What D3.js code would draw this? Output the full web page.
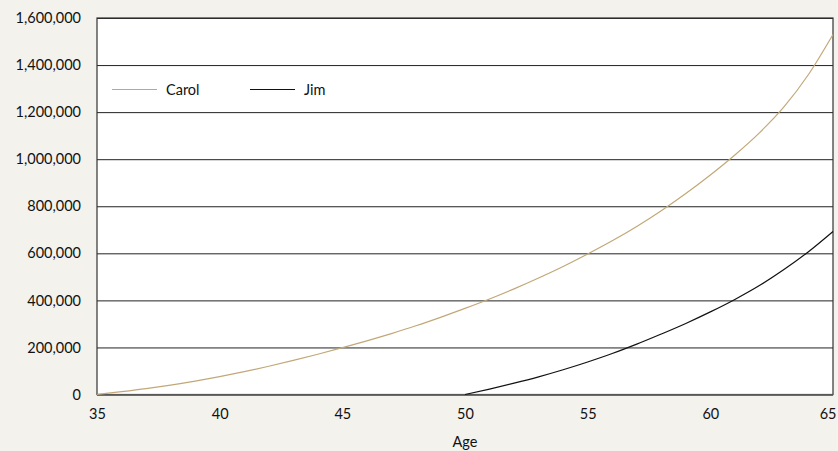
<!DOCTYPE html>
<html>
<head>
<meta charset="utf-8">
<script src="https://cdn.jsdelivr.net/npm/d3@7"></script>
<style>
  html, body { margin: 0; padding: 0; background: #f4f2ed; }
  svg { display: block; }
  text { font-family: "Lato", "Open Sans", sans-serif; fill: #111; }
</style>
</head>
<body>
<svg id="chart" width="838" height="451"></svg>
<script>
// Data (values in dollars)
const carolAges = d3.range(35, 66);
const carolValues = [0, 12000, 25000, 40000, 57000, 76000, 97000, 120000, 145000, 171000,
  199000, 228000, 259000, 292000, 328000, 366000, 406000, 449000, 495000, 544000,
  597000, 653000, 714000, 781000, 854000, 933000, 1018000, 1112000, 1222000, 1360000, 1530000];
const jimAges = d3.range(50, 66);
const jimValues = [0, 23000, 48000, 75000, 105000, 138000, 174000, 214000, 257000, 302000,
  351000, 404000, 463000, 531000, 607000, 693000];
const seriesNames = ["Carol", "Jim"];
const seriesColors = ["#c2a878", "#111111"];
const xTicks = [35, 40, 45, 50, 55, 60, 65];
const yTicks = [0, 200000, 400000, 600000, 800000, 1000000, 1200000, 1400000, 1600000];
const xTitle = "Age";

const svg = d3.select("#chart");
const margin = { left: 97, right: 5, top: 18, bottom: 56.5 };
const W = 838, H = 451;
const x = d3.scaleLinear().domain([35, 65]).range([margin.left, W - margin.right]);
const y = d3.scaleLinear().domain([0, 1600000]).range([H - margin.bottom, margin.top]);

// plot background
svg.append("rect")
  .attr("x", x(35)).attr("y", y(1600000))
  .attr("width", x(65) - x(35)).attr("height", y(0) - y(1600000))
  .attr("fill", "#ffffff");

// gridlines + y labels
const fmt = d3.format(",");
svg.append("g")
  .attr("transform", `translate(${x(35)},0)`)
  .call(d3.axisLeft(y).tickValues(yTicks).tickSize(-(x(65) - x(35))).tickPadding(16).tickFormat(fmt))
  .call(g => g.select(".domain").remove())
  .call(g => g.selectAll(".tick line").attr("stroke", "#222").attr("stroke-width", 1))
  .call(g => g.selectAll(".tick text").attr("font-size", 14.5).attr("fill", "#111")
      .attr("font-family", "Lato, 'Open Sans', sans-serif"));

// x axis labels
svg.append("g")
  .attr("transform", `translate(0,${y(0)})`)
  .call(d3.axisBottom(x).tickValues(xTicks).tickSize(0).tickPadding(14).tickFormat(d3.format("d")))
  .call(g => g.select(".domain").remove())
  .call(g => g.selectAll(".tick text").attr("font-size", 14.5).attr("fill", "#111")
      .attr("font-family", "Lato, 'Open Sans', sans-serif"))
  .call(g => g.selectAll(".tick").filter(d => d === 65).select("text")
      .attr("text-anchor", "end").attr("x", W - 2 - x(65)));

// plot border
svg.append("rect")
  .attr("x", x(35)).attr("y", y(1600000))
  .attr("width", x(65) - x(35)).attr("height", y(0) - y(1600000))
  .attr("fill", "none").attr("stroke", "#333").attr("stroke-width", 1.2);
svg.append("line")
  .attr("x1", x(35)).attr("x2", x(65)).attr("y1", y(0) + 0.5).attr("y2", y(0) + 0.5)
  .attr("stroke", "#666").attr("stroke-width", 1.5);

// lines
const line = d3.line().x(d => x(d[0])).y(d => y(d[1])).curve(d3.curveMonotoneX);
const carolData = carolAges.map((a, i) => [a, carolValues[i]]);
const jimData = jimAges.map((a, i) => [a, jimValues[i]]);
[carolData, jimData].forEach((data, i) => {
  svg.append("path")
    .datum(data)
    .attr("d", line)
    .attr("fill", "none")
    .attr("stroke", seriesColors[i])
    .attr("stroke-width", 1.2);
});

// legend
const legend = svg.append("g").attr("transform", `translate(${x(35) + 15}, 89.5)`);
const legendOffsets = [0, 138];
seriesNames.forEach((name, i) => {
  const g = legend.append("g").attr("transform", `translate(${legendOffsets[i]},0)`);
  g.append("line").attr("x1", 0).attr("x2", 45).attr("y1", 0).attr("y2", 0)
    .attr("stroke", seriesColors[i]).attr("stroke-width", 1.2);
  g.append("text").attr("x", 54).attr("y", 0).attr("dy", "0.35em")
    .attr("font-size", 14.5).text(name);
});

// x title
svg.append("text")
  .attr("x", (x(35) + x(65)) / 2).attr("y", 447)
  .attr("text-anchor", "middle").attr("font-size", 14.5)
  .text(xTitle);
</script>
</body>
</html>
